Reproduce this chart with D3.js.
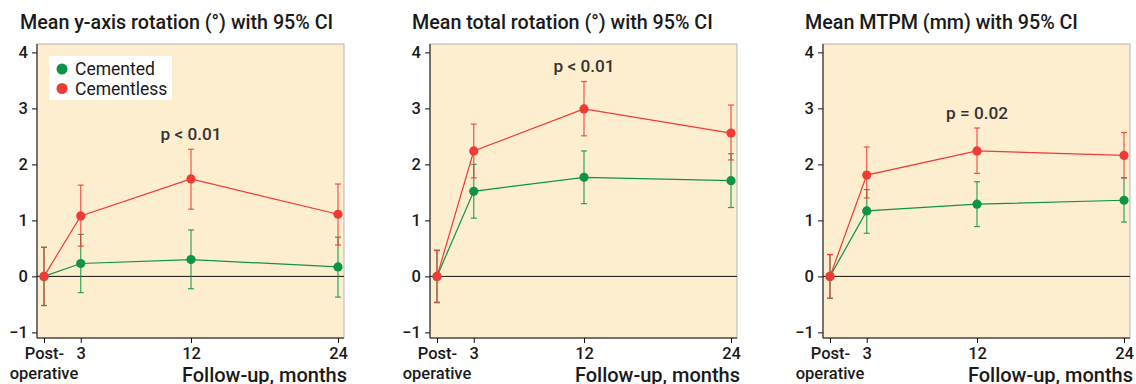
<!DOCTYPE html>
<html><head><meta charset="utf-8">
<script src="https://cdn.jsdelivr.net/npm/d3@7"></script>
<style>
html,body{margin:0;padding:0;background:#fff;}
svg{display:block;font-family:Roboto,"Liberation Sans",Arial,sans-serif;}
</style></head>
<body>
<svg id="chart" width="1136" height="384"></svg>
<script>
// ---- data ----
const months = [0, 3, 12, 24];
const xTickLabels = ["Post-", "3", "12", "24"];
const yTicks = [-1, 0, 1, 2, 3, 4];
const titles = ["Mean y-axis rotation (°) with 95% CI", "Mean total rotation (°) with 95% CI", "Mean MTPM (mm) with 95% CI"];
const seriesNames = ["Cemented", "Cementless"];
const pLabels = ["p < 0.01", "p < 0.01", "p = 0.02"];
const pLabelY = [2.55, 3.75, 2.91];

// panel 1: y-axis rotation
const yrotCemented      = [0, 0.23, 0.30, 0.17];
const yrotCementedLo    = [-0.52, -0.29, -0.22, -0.37];
const yrotCementedHi    = [0.52, 0.75, 0.83, 0.70];
const yrotCementless    = [0, 1.08, 1.74, 1.11];
const yrotCementlessLo  = [-0.52, 0.54, 1.20, 0.56];
const yrotCementlessHi  = [0.52, 1.63, 2.27, 1.65];
// panel 2: total rotation
const totCemented       = [0, 1.52, 1.77, 1.71];
const totCementedLo     = [-0.47, 1.04, 1.30, 1.23];
const totCementedHi     = [0.47, 2.00, 2.24, 2.19];
const totCementless     = [0, 2.24, 2.99, 2.56];
const totCementlessLo   = [-0.46, 1.76, 2.51, 2.08];
const totCementlessHi   = [0.46, 2.72, 3.48, 3.06];
// panel 3: MTPM
const mtpmCemented      = [0, 1.17, 1.29, 1.36];
const mtpmCementedLo    = [-0.39, 0.77, 0.89, 0.97];
const mtpmCementedHi    = [0.39, 1.55, 1.69, 1.76];
const mtpmCementless    = [0, 1.81, 2.24, 2.16];
const mtpmCementlessLo  = [-0.39, 1.40, 1.84, 1.76];
const mtpmCementlessHi  = [0.39, 2.31, 2.65, 2.57];

const panels = [
  {title: titles[0], p: pLabels[0], pY: pLabelY[0], legend: true,
   series: [[yrotCemented, yrotCementedLo, yrotCementedHi], [yrotCementless, yrotCementlessLo, yrotCementlessHi]]},
  {title: titles[1], p: pLabels[1], pY: pLabelY[1], legend: false,
   series: [[totCemented, totCementedLo, totCementedHi], [totCementless, totCementlessLo, totCementlessHi]]},
  {title: titles[2], p: pLabels[2], pY: pLabelY[2], legend: false,
   series: [[mtpmCemented, mtpmCementedLo, mtpmCementedHi], [mtpmCementless, mtpmCementlessLo, mtpmCementlessHi]]}
];

// ---- layout ----
const colors = ["#0f9447", "#ef3b36"];
const panelLeft = [37, 430, 823];
const titleX = [-17, -18, -18];
const plotW = 307, plotTop = 44, plotBot = 338;
const bg = "#fdeecf";
const textColor = "#1a1a1a";
const FW = 500;

const svg = d3.select("#chart");

panels.forEach((pn, i) => {
  const g = svg.append("g").attr("transform", `translate(${panelLeft[i]},0)`);
  const x = d3.scaleLinear().domain([0, 24]).range([7, 301]);
  const y = d3.scaleLinear().domain([-1.1, 4.15]).range([plotBot, plotTop]);

  // title
  g.append("text").attr("x", titleX[i]).attr("y", 29)
    .attr("font-size", 19.7).attr("font-weight", FW).attr("fill", textColor)
    .text(pn.title);

  // background
  g.append("rect").attr("x", 0).attr("y", plotTop).attr("width", plotW).attr("height", plotBot - plotTop)
    .attr("fill", bg).attr("stroke", "#b5b5b5").attr("stroke-width", 1);

  // zero line
  g.append("line").attr("x1", 0).attr("x2", plotW).attr("y1", y(0)).attr("y2", y(0))
    .attr("stroke", "#111").attr("stroke-width", 1);

  // y axis
  const yAxis = d3.axisLeft(y).tickValues(yTicks).tickSize(5).tickPadding(4)
    .tickFormat(d => d < 0 ? "\u2212" + Math.abs(d) : String(d));
  const ya = g.append("g").call(yAxis);
  ya.select(".domain").attr("d", `M0,${plotTop}V${plotBot}`).attr("stroke", "#111");
  ya.selectAll(".tick line").attr("stroke", "#111");
  ya.selectAll("text").attr("font-size", 16.5).attr("font-weight", FW).attr("fill", textColor)
    .attr("font-family", "Roboto, sans-serif");

  // x axis
  const xAxis = d3.axisBottom(x).tickValues(months).tickSize(5).tickPadding(4)
    .tickFormat((d, j) => xTickLabels[j]);
  const xa = g.append("g").attr("transform", `translate(0,${plotBot})`).call(xAxis);
  xa.select(".domain").attr("d", `M0,0H${plotW}`).attr("stroke", "#111");
  xa.selectAll(".tick line").attr("stroke", "#111");
  xa.selectAll("text").attr("font-size", 16.5).attr("font-weight", FW).attr("fill", textColor)
    .attr("font-family", "Roboto, sans-serif");
  g.append("text").attr("x", x(0)).attr("y", 379).attr("text-anchor", "middle")
    .attr("font-size", 16.5).attr("font-weight", FW).attr("fill", textColor).text("operative");
  g.append("text").attr("x", 310).attr("y", 382).attr("text-anchor", "end")
    .attr("font-size", 20).attr("font-weight", FW).attr("fill", textColor).text("Follow-up, months");

  // series
  pn.series.forEach((s, k) => {
    const [mean, lo, hi] = s;
    const c = colors[k];
    const sg = g.append("g");
    const pts = months.map((m, j) => ({m, v: mean[j], lo: lo[j], hi: hi[j]}));
    sg.selectAll("line.ci").data(pts).join("line").attr("class", "ci")
      .attr("x1", d => x(d.m)).attr("x2", d => x(d.m))
      .attr("y1", d => y(d.lo)).attr("y2", d => y(d.hi))
      .attr("stroke", c).attr("stroke-width", 1.2).attr("opacity", 0.85);
    ["lo", "hi"].forEach(key => {
      sg.selectAll("line.cap" + key).data(pts).join("line").attr("class", "cap" + key)
        .attr("x1", d => x(d.m) - 3).attr("x2", d => x(d.m) + 3)
        .attr("y1", d => y(d[key])).attr("y2", d => y(d[key]))
        .attr("stroke", c).attr("stroke-width", 1.2).attr("opacity", 0.85);
    });
    sg.append("path").datum(pts)
      .attr("d", d3.line().x(d => x(d.m)).y(d => y(d.v)))
      .attr("fill", "none").attr("stroke", c).attr("stroke-width", 1.2);
    sg.selectAll("circle").data(pts).join("circle")
      .attr("cx", d => x(d.m)).attr("cy", d => y(d.v)).attr("r", 4.6).attr("fill", c);
  });

  // p label
  g.append("text").attr("x", x(12)).attr("y", y(pn.pY) + 6).attr("text-anchor", "middle")
    .attr("font-size", 17.2).attr("font-weight", FW).attr("fill", "#333").text(pn.p);

  // legend
  if (pn.legend) {
    const lg = g.append("g");
    lg.append("rect").attr("x", 12).attr("y", 56).attr("width", 123).attr("height", 44).attr("fill", "#fff");
    seriesNames.forEach((nm, k) => {
      lg.append("circle").attr("cx", 25).attr("cy", 69 + k * 19.5).attr("r", 5.5).attr("fill", colors[k]);
      lg.append("text").attr("x", 38).attr("y", 75 + k * 19.5).attr("font-size", 17.5)
        .attr("fill", textColor).text(nm);
    });
  }
});
</script>
</body></html>
